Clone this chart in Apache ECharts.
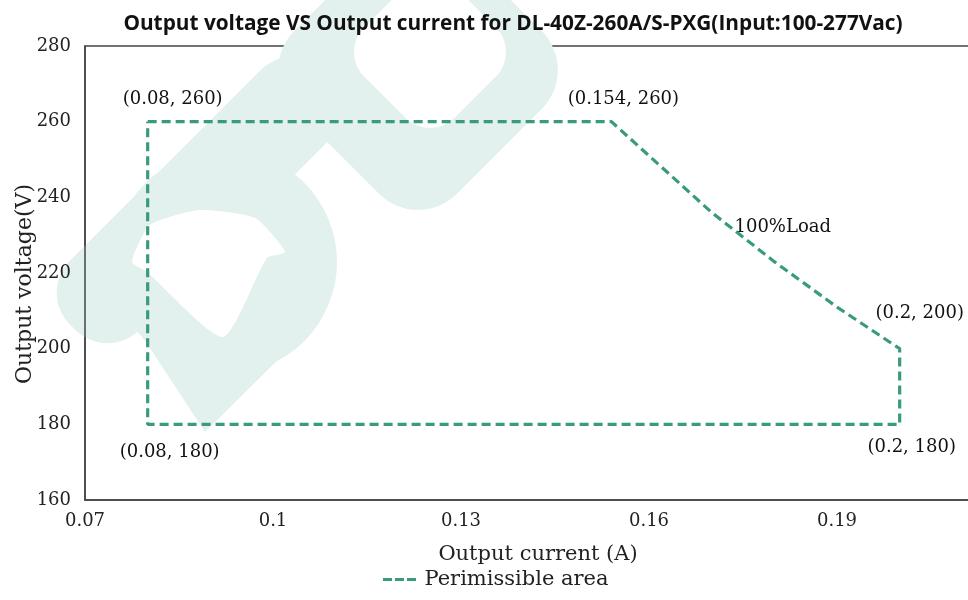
<!DOCTYPE html>
<html><head><meta charset="utf-8">
<script src="https://cdn.jsdelivr.net/npm/echarts@6/dist/echarts.min.js"></script>
<style>html,body{margin:0;padding:0;background:#fff}#c{width:968px;height:600px}</style>
</head><body><div id="c"></div>
<script>
const titleText = 'Output voltage VS Output current for DL-40Z-260A/S-PXG(Input:100-277Vac)';
const seriesName = 'Perimissible area';
const currentA = [0.08, 0.154, 0.16, 0.17, 0.18, 0.19, 0.2, 0.2, 0.08, 0.08];
const voltageV = [260, 260, 251, 236, 223, 211, 200, 180, 180, 260];
const labelX = [0.08, 0.154, 0.2, 0.2, 0.08, 0.174];
const labelY = [260, 260, 200, 180, 180, 231];
const labelText = ['(0.08, 260)', '(0.154, 260)', '(0.2, 200)', '(0.2, 180)', '(0.08, 180)', '100%Load'];
const labelOffset = [[25,-22],[12,-22],[20,-35],[12,23],[22,28],[46,-4]];
const xMin = 0.07, xMax = 0.22, xStep = 0.03;
const yMin = 160, yMax = 280, yStep = 20;

const FONT = 'DejaVu Serif';
const teal = '#3a9a7e';
const wm = '#e2f0ee';
const D = Math.PI / 4;
const chart = echarts.init(document.getElementById('c'));
chart.setOption({
  animation: false,
  backgroundColor: '#fff',
  graphic: [
    { type: 'group', z: -10, silent: true, children: [
      { type: 'rect', x: 200, y: 200, rotation: D, shape: { x: -180, y: -49, width: 360, height: 98, r: 45 }, style: { fill: wm } },
      { type: 'rect', x: 418, y: 70, rotation: D, shape: { x: -115, y: -115, width: 230, height: 230, r: 55 }, style: { fill: wm } },
      { type: 'rect', x: 430, y: 52, rotation: D, shape: { x: -64, y: -64, width: 128, height: 128, r: 35 }, style: { fill: '#fff' } },
      { type: 'circle', shape: { cx: 225, cy: 262, r: 112 }, style: { fill: wm } },
      { type: 'polygon', shape: { points: [[125, 310], [205, 432], [318, 320]] }, style: { fill: wm } },
      { type: 'polygon', shape: { points: [[132, 262], [150, 225], [200, 210], [255, 218], [285, 252], [267, 258], [223, 337], [147, 272]], smooth: 0.2 }, style: { fill: '#fff' } }
    ] }
  ],
  title: { text: titleText, left: 508, top: 9, textAlign: 'center',
    textStyle: { fontFamily: 'Open Sans', fontWeight: 'bold', fontSize: 20.8, color: '#111' } },
  grid: { left: 85, top: 46, height: 454, width: 940, outerBoundsMode: 'none', containLabel: false,
    show: true, borderColor: '#444', borderWidth: 1.5, backgroundColor: 'transparent' },
  legend: { data: [{ name: seriesName, icon: 'path://M0,0h9v3h-9z M12,0h9v3h-9z M24,0h9v3h-9z' }],
    bottom: 5, left: 378, itemWidth: 40, itemHeight: 3, itemGap: 6,
    textStyle: { fontFamily: FONT, fontSize: 21, color: '#222' } },
  xAxis: { type: 'value', min: xMin, max: xMax, interval: xStep,
    name: 'Output current (A)', nameLocation: 'middle', nameGap: 44, nameMoveOverlap: false,
    nameTextStyle: { fontFamily: FONT, fontSize: 21, color: '#222', padding: [0, 34, 0, 0] },
    axisLine: { show: true, lineStyle: { color: '#444', width: 1.5 } }, axisTick: { show: false },
    splitLine: { show: false },
    axisLabel: { fontFamily: FONT, fontSize: 18, color: '#222', margin: 12, formatter: v => String(+v.toFixed(2)) } },
  yAxis: { type: 'value', min: yMin, max: yMax, interval: yStep,
    name: 'Output voltage(V)', nameLocation: 'middle', nameGap: 49, nameMoveOverlap: false,
    nameTextStyle: { fontFamily: FONT, fontSize: 22, color: '#222', padding: [0, 22, 0, 0] },
    axisLine: { show: true, lineStyle: { color: '#444', width: 1.5 } }, axisTick: { show: false },
    splitLine: { show: false },
    axisLabel: { fontFamily: FONT, fontSize: 18, color: '#222', margin: 14 } },
  series: [
    { name: seriesName, type: 'line', symbol: 'none', silent: true,
      data: currentA.map((x, i) => [x, voltageV[i]]),
      lineStyle: { color: teal, width: 3.2, type: [9, 5] }, itemStyle: { color: teal } },
    { name: 'labels', type: 'scatter', symbolSize: 0, silent: true,
      data: labelX.map((x, i) => ({ value: [x, labelY[i]],
        label: { show: true, position: 'inside', formatter: labelText[i], offset: labelOffset[i],
          fontFamily: FONT, fontSize: 18, color: '#111', opacity: 1 } })) }
  ]
});
</script></body></html>
